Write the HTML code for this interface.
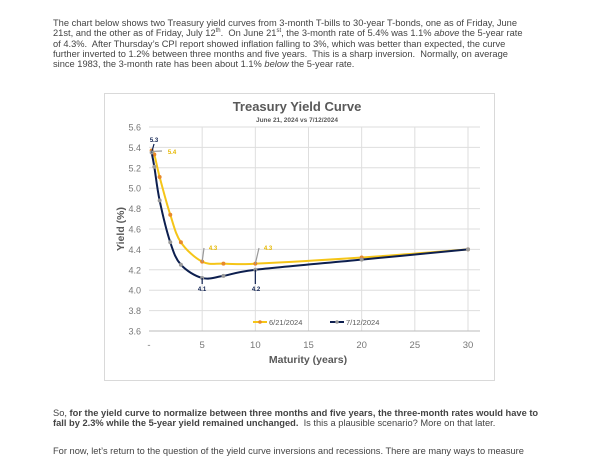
<!DOCTYPE html>
<html><head><meta charset="utf-8"><style>
body{margin:0;width:613px;height:460px;background:#fff;overflow:hidden;font-family:"Liberation Sans",sans-serif;color:#444}
.p{position:absolute;left:53px;font-size:9.3px;line-height:10.3px;width:500px;white-space:nowrap}
</style></head><body>
<div class="p" style="top:18px">The chart below shows two Treasury yield curves from 3-month T-bills to 30-year T-bonds, one as of Friday, June<br>21st, and the other as of Friday, July 12<sup style="font-size:6px;line-height:0">th</sup>.&nbsp; On June 21<sup style="font-size:6px;line-height:0">st</sup>, the 3-month rate of 5.4% was 1.1% <i>above</i> the 5-year rate<br>of 4.3%.&nbsp; After Thursday’s CPI report showed inflation falling to 3%, which was better than expected, the curve<br>further inverted to 1.2% between three months and five years.&nbsp; This is a sharp inversion.&nbsp; Normally, on average<br>since 1983, the 3-month rate has been about 1.1% <i>below</i> the 5-year rate.</div>
<div class="p" style="top:408px">So, <b>for the yield curve to normalize between three months and five years, the three-month rates would have to<br>fall by 2.3% while the 5-year yield remained unchanged.</b>&nbsp; Is this a plausible scenario? More on that later.</div>
<div class="p" style="top:446px">For now, let’s return to the question of the yield curve inversions and recessions. There are many ways to measure</div>
<svg id="c" width="613" height="460" style="position:absolute;left:0;top:0" font-family="Liberation Sans, sans-serif"></svg>
<script>
const maturities=[0.25,0.5,1,2,3,5,7,10,20,30];
const june=[5.37,5.33,5.11,4.74,4.47,4.28,4.26,4.26,4.32,4.40];
const july=[5.35,5.21,4.88,4.47,4.25,4.12,4.14,4.20,4.30,4.40];
const yTicks=[3.6,3.8,4.0,4.2,4.4,4.6,4.8,5.0,5.2,5.4,5.6];
const xTicks=[0,5,10,15,20,25,30];
const xLabels=['-','5','10','15','20','25','30'];
const svg=document.getElementById('c');const NS='http://www.w3.org/2000/svg';
const X=v=>149+v*10.633, Y=v=>331-(v-3.6)*102;
function el(t,a,txt){const e=document.createElementNS(NS,t);for(const k in a)e.setAttribute(k,a[k]);if(txt!=null)e.textContent=txt;svg.appendChild(e);return e;}
let b=el('rect',{x:104.5,y:93.5,width:390,height:287,fill:'#fff',stroke:'#d9d9d9'});


yTicks.forEach(v=>{let g=el('line',{x1:149,x2:480,y1:Y(v),y2:Y(v),stroke:'#dedede'});


let t=el('text',{x:141,y:Y(v)+3.5,'text-anchor':'end','font-size':9,fill:'#777'},v.toFixed(1));

});
xTicks.forEach((v,i)=>{if(v>0){let g=el('line',{x1:X(v),x2:X(v),y1:127,y2:331,stroke:'#dedede'});

}
let t=el('text',{x:X(v),y:348,'text-anchor':'middle','font-size':9.5,fill:'#777'},xLabels[i]);

});
let ax=el('line',{x1:149,x2:480,y1:331,y2:331,stroke:'#bbb'});


let tt=el('text',{x:297,y:111,'text-anchor':'middle','font-size':13,'font-weight':'bold',fill:'#595959'},'Treasury Yield Curve');


let st=el('text',{x:297,y:122,'text-anchor':'middle','font-size':6.5,'font-weight':'bold',fill:'#595959'},'June 21, 2024 vs 7/12/2024');


let xt=el('text',{x:308,y:363,'text-anchor':'middle','font-size':10.5,'font-weight':'bold',fill:'#595959'},'Maturity (years)');


let yt=el('text',{x:0,y:0,'text-anchor':'middle','font-size':10.5,'font-weight':'bold',fill:'#595959',transform:'translate(124,229) rotate(-90)'},'Yield (%)');


function smooth(vals){const p=maturities.map((m,i)=>[X(m),Y(vals[i])]);let d='M'+p[0];
for(let i=0;i<p.length-1;i++){const p0=p[i-1]||p[i],p1=p[i],p2=p[i+1],p3=p[i+2]||p2;
const c1=[p1[0]+(p2[0]-p0[0])/6,p1[1]+(p2[1]-p0[1])/6],c2=[p2[0]-(p3[0]-p1[0])/6,p2[1]-(p3[1]-p1[1])/6];
d+='C'+c1+' '+c2+' '+p2;}return d;}
[[june,'#f5c518','#e8892b','june-series'],[july,'#0d1f4f','#999','july-series']].forEach(([vals,col,mk,nm])=>{
let l=el('path',{d:smooth(vals),fill:'none',stroke:col,'stroke-width':2});


maturities.forEach((m,i)=>{let c=el('circle',{cx:X(m),cy:Y(vals[i]),r:2,fill:mk});

});});
function lab(x,y,t,col,lx1,ly1,lx2,ly2,lc){let ln=el('line',{x1:lx1,y1:ly1,x2:lx2,y2:ly2,stroke:lc,'stroke-width':1.2});


let tx=el('text',{x:x,y:y,'font-size':6,'font-weight':'bold',fill:col,'text-anchor':'middle'},t);

}
lab(154,142,'5.3','#0d1f4f',X(0.25),Y(july[0]),154,144,'#0d1f4f');
lab(172,154,'5.4','#e6b800',X(0.25),Y(june[0])+1,162,151,'#999');
lab(213,250,'4.3','#e6b800',X(5),Y(june[5]),204,248,'#999');
lab(268,250,'4.3','#e6b800',X(10),Y(june[7]),259,248,'#999');
lab(202,291,'4.1','#0d1f4f',X(5),Y(july[5]),X(5),284,'#0d1f4f');
lab(256,291,'4.2','#0d1f4f',X(10),Y(july[7]),X(10),284,'#0d1f4f');
[[253,'#f5c518','#e8892b','6/21/2024'],[330,'#0d1f4f','#999','7/12/2024']].forEach(([x,c,m,t])=>{
let l=el('line',{x1:x,x2:x+14,y1:322,y2:322,stroke:c,'stroke-width':2});


el('circle',{cx:x+7,cy:322,r:1.8,fill:m});
let tx=el('text',{x:x+16,y:325,'font-size':7.5,fill:'#595959'},t);

});
</script>
</body></html>
